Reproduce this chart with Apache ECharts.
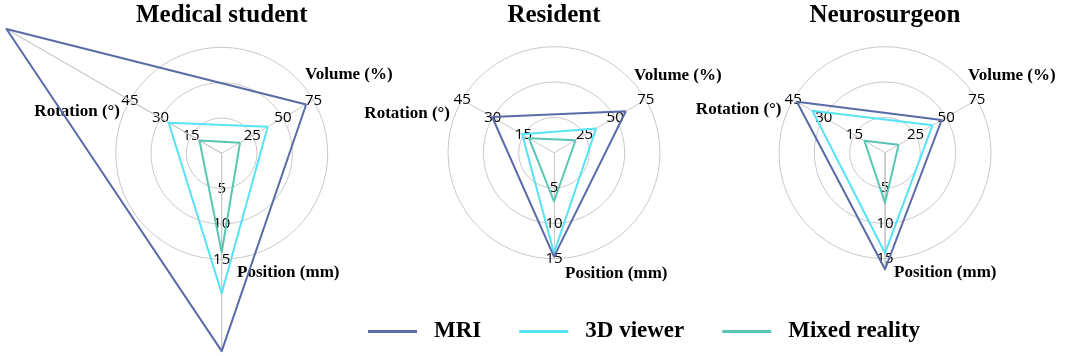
<!DOCTYPE html>
<html>
<head>
<meta charset="utf-8">
<script src="https://cdn.jsdelivr.net/npm/echarts@6/dist/echarts.min.js"></script>
<style>
html,body{margin:0;padding:0;background:#fff;}
#chart{width:1065px;height:356px;}
</style>
</head>
<body>
<div id="chart"></div>
<script>
// ---- data ----
const groups = ['Medical student', 'Resident', 'Neurosurgeon'];
const indicatorNames = ['Volume (%)', 'Rotation (°)', 'Position (mm)'];
const indicatorMax = [75, 45, 15];
const seriesNames = ['MRI', '3D viewer', 'Mixed reality'];
// values per group: [Volume, Rotation, Position]
const mriValues = [[69, 105.5, 28], [58.7, 30.3, 14.7], [46.3, 43.2, 16.5]];
const viewerValues = [[37.6, 26, 19.8], [34.4, 15.6, 14.2], [38.8, 35.6, 14.2]];
const mixedValues = [[15, 10.9, 14], [17.6, 12.3, 6.9], [11.1, 10.1, 7.1]];

// ---- layout / style ----
const centers = [[221.7, 153.3], [554, 152.7], [885, 152.7]];
const R = 106;
const colors = ['#5A6BA7', '#55E4F6', '#58C6B4'];
const gridColor = '#C9C9C9';
const serif = '"Liberation Serif", "Times New Roman", serif';
// indicator name placement (anchor x, middle y, alignment) per chart
const namePos = [
  [[305, 75, 'left'], [120, 112, 'right'], [237, 273, 'left']],
  [[634, 76, 'left'], [450, 114, 'right'], [565, 274, 'left']],
  [[968, 76, 'left'], [781.5, 110, 'right'], [894, 273, 'left']]
];

const allValues = [mriValues, viewerValues, mixedValues];

const chart = echarts.init(document.getElementById('chart'), null, {renderer: 'canvas'});

const radars = centers.map(c => ({
  center: [c[0], c[1]],
  radius: R,
  startAngle: 30,
  splitNumber: 3,
  shape: 'circle',
  indicator: indicatorNames.map((n, i) => ({name: n, min: 0, max: indicatorMax[i]})),
  axisName: {show: false},
  nameGap: 0,
  splitLine: {lineStyle: {color: gridColor, width: 1}},
  splitArea: {show: false},
  axisLine: {lineStyle: {color: gridColor, width: 1}},
  axisTick: {show: false},
  axisLabel: {
    show: true,
    margin: 0,
    align: 'center',
    verticalAlign: 'middle',
    color: '#000',
    fontFamily: '"Open Sans", "Noto Sans", sans-serif',
    fontSize: 15,
    formatter: v => (v === 0 ? '' : String(v))
  }
}));

const series = [];
groups.forEach((g, gi) => {
  // axis extensions for values beyond the axis max
  const spokes = [];
  indicatorMax.forEach((mx, k) => {
    const m = Math.max.apply(null, allValues.map(s => s[gi][k]));
    if (m > mx) {
      spokes.push({
        name: 'axis-ext',
        value: indicatorMax.map((_, j) => (j === k ? m : 0)),
        lineStyle: {color: gridColor, width: 1},
        itemStyle: {color: gridColor}
      });
    }
  });
  if (spokes.length) {
    series.push({
      type: 'radar', radarIndex: gi, symbol: 'none', silent: true, z: 1,
      data: spokes
    });
  }
  series.push({
    type: 'radar',
    radarIndex: gi,
    symbol: 'none',
    z: 2,
    data: seriesNames.map((n, si) => ({
      name: n,
      value: allValues[si][gi],
      lineStyle: {color: colors[si], width: 2},
      itemStyle: {color: colors[si]}
    })).reverse()
  });
});

const titles = groups.map((g, gi) => ({
  text: g,
  left: centers[gi][0],
  textAlign: 'center',
  top: 3,
  padding: 0,
  textStyle: {fontFamily: serif, fontWeight: 'bold', fontSize: 25, color: '#000'}
}));

const graphics = [];
namePos.forEach((arr, gi) => {
  arr.forEach((p, k) => {
    graphics.push({
      type: 'text',
      x: p[0], y: p[1],
      style: {
        text: indicatorNames[k],
        font: 'bold 17px ' + serif,
        fill: '#000',
        align: p[2], textAlign: p[2],
        verticalAlign: 'middle', textVerticalAlign: 'middle'
      }
    });
  });
});

chart.setOption({
  animation: false,
  color: colors,
  title: titles,
  radar: radars,
  legend: {
    data: seriesNames,
    left: 368,
    top: 320,
    padding: 0,
    icon: 'rect',
    itemWidth: 49,
    itemHeight: 3,
    itemGap: 38,
    textStyle: {fontFamily: serif, fontWeight: 'bold', fontSize: 23, color: '#000', padding: [0, 0, 0, 12]}
  },
  graphic: graphics,
  series: series
});
</script>
</body>
</html>
